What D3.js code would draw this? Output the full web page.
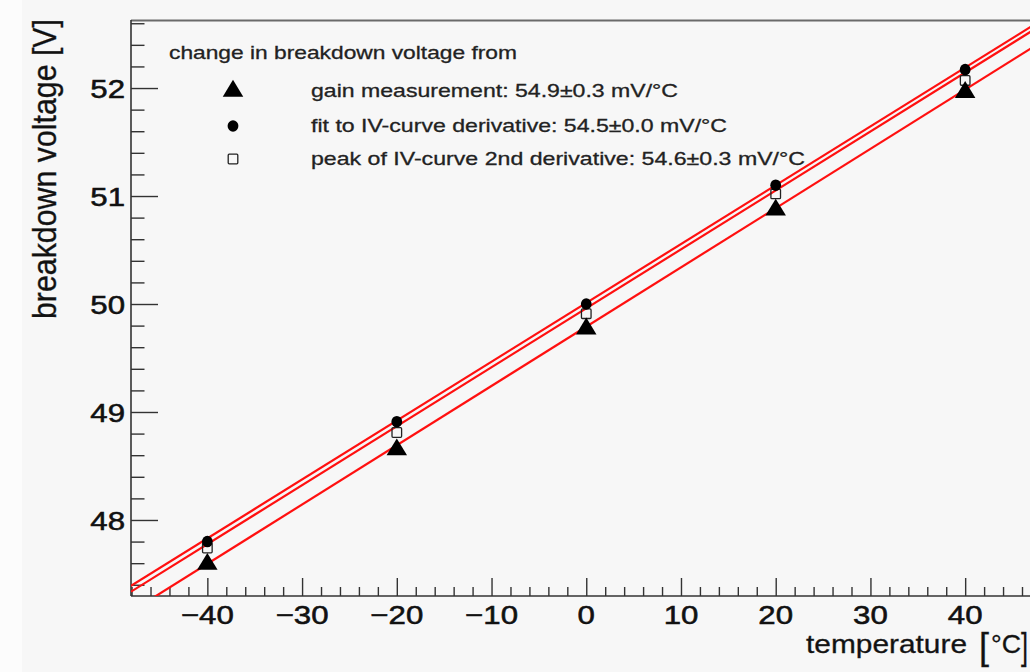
<!DOCTYPE html>
<html>
<head>
<meta charset="utf-8">
<script src="https://cdn.jsdelivr.net/npm/d3@7"></script>
<style>
  html, body { margin: 0; padding: 0; background: #f7f7f7; }
  svg { display: block; }
  text { font-family: "Liberation Sans", Arial, Helvetica, sans-serif; fill: #111; }
  .bold-ish { stroke: #111; stroke-width: 0.55px; }
  .soft { stroke: #222; stroke-width: 0.3px; }
</style>
</head>
<body>
<script>
// Temperatures at which the breakdown voltage was determined (°C)
const temperatures = [-40, -20, 0, 20, 40];

// Breakdown voltage (V) per method
const vGainMeasurement = [47.60, 48.66, 49.78, 50.88, 51.97];
const vFitIVDerivative = [47.80, 48.91, 50.00, 51.10, 52.17];
const vPeakIV2ndDeriv  = [47.74, 48.81, 49.91, 51.02, 52.07];

// Linear fit results: slope (mV/°C) and voltage at 0 °C (V)
const fitSlopes  = [54.9, 54.5, 54.6];
const fitOffsets = [49.79, 50.01, 49.96];

// Legend texts
const legendTitle = "change in breakdown voltage from";
const legendLabels = [
  "gain measurement: 54.9\u00b10.3 mV/\u00b0C",
  "fit to IV-curve derivative: 54.5\u00b10.0 mV/\u00b0C",
  "peak of IV-curve 2nd derivative: 54.6\u00b10.3 mV/\u00b0C"
];

// Axis ticks
const xMajorTicks = [-40, -30, -20, -10, 0, 10, 20, 30, 40];
const yMajorTicks = [48, 49, 50, 51, 52];

const W = 1030, H = 672;
const frame = { left: 131, right: 1040, top: 20, bottom: 596 };

const svg = d3.select("body").append("svg")
  .attr("width", W).attr("height", H);

svg.append("rect").attr("width", W).attr("height", H).attr("fill", "#f7f7f7");
svg.append("rect").attr("width", 22).attr("height", H).attr("fill", "#fcfcfc");

const x = d3.scaleLinear().domain([-48.06, 47.9]).range([frame.left, frame.right]);
const y = d3.scaleLinear().domain([47.296, 52.63]).range([frame.bottom, frame.top]);

// clip region for the fit lines
svg.append("clipPath").attr("id", "plotArea")
  .append("rect")
  .attr("x", frame.left).attr("y", frame.top)
  .attr("width", frame.right - frame.left).attr("height", frame.bottom - frame.top);

// frame top border
svg.append("line")
  .attr("x1", frame.left).attr("x2", W + 20)
  .attr("y1", frame.top + 0.5).attr("y2", frame.top + 0.5)
  .attr("stroke", "#6a6a6a").attr("stroke-width", 2);

const axisColor = "#333";

// x axis: minor ticks every 2 °C, major every 10 °C, drawn inward
const xAxisMinor = d3.axisTop(x)
  .tickValues(d3.range(-48, 48, 2).filter(v => v % 10 !== 0))
  .tickSize(9).tickFormat("");
const xAxisMajor = d3.axisTop(x)
  .tickValues(xMajorTicks).tickSize(18).tickFormat("");

svg.append("g").attr("transform", `translate(0,${frame.bottom})`).call(xAxisMinor);
svg.append("g").attr("transform", `translate(0,${frame.bottom})`).call(xAxisMajor);

// y axis: minor every 0.2 V, major every 1 V, drawn inward
const yMinorVals = d3.range(47.4, 52.61, 0.2).map(v => +v.toFixed(1)).filter(v => Math.abs(v - Math.round(v)) > 1e-6);
const yAxisMinor = d3.axisRight(y).tickValues(yMinorVals).tickSize(13.5).tickFormat("");
const yAxisMajor = d3.axisRight(y).tickValues(yMajorTicks).tickSize(27).tickFormat("");

svg.append("g").attr("transform", `translate(${frame.left},0)`).call(yAxisMinor);
svg.append("g").attr("transform", `translate(${frame.left},0)`).call(yAxisMajor);

svg.selectAll(".domain").remove();
svg.selectAll(".tick line").attr("stroke", axisColor).attr("stroke-width", 1.4);

// axis lines
svg.append("line")
  .attr("x1", frame.left).attr("x2", frame.left)
  .attr("y1", frame.top).attr("y2", frame.bottom)
  .attr("stroke", axisColor).attr("stroke-width", 1.6);
svg.append("line")
  .attr("x1", frame.left).attr("x2", W + 20)
  .attr("y1", frame.bottom).attr("y2", frame.bottom)
  .attr("stroke", axisColor).attr("stroke-width", 1.6);

// tick labels (glyphs slightly widened)
const hScale = 1.2;
const fmtTick = v => (v < 0 ? "\u2212" + Math.abs(v) : String(v));

svg.append("g").selectAll("text")
  .data(xMajorTicks).join("text")
  .attr("class", "bold-ish")
  .attr("transform", d => `translate(${x(d)},624) scale(${hScale},1)`)
  .attr("text-anchor", "middle")
  .style("font-size", "26px")
  .text(fmtTick);

svg.append("g").selectAll("text")
  .data(yMajorTicks).join("text")
  .attr("class", "bold-ish")
  .attr("transform", d => `translate(125,${y(d) + 10}) scale(${hScale},1)`)
  .attr("text-anchor", "end")
  .style("font-size", "26px")
  .text(d => String(d));

// axis titles
svg.append("text")
  .attr("class", "soft")
  .attr("transform", `translate(55.5,19) rotate(-90) scale(1,${hScale})`)
  .attr("text-anchor", "end")
  .attr("textLength", 300).attr("lengthAdjust", "spacingAndGlyphs")
  .style("font-size", "27px")
  .text("breakdown voltage [V]");

const xTitle = svg.append("g").attr("class", "soft");
xTitle.append("text").attr("x", 806).attr("y", 653)
  .attr("textLength", 161).attr("lengthAdjust", "spacingAndGlyphs")
  .style("font-size", "25px").text("temperature");
xTitle.append("text").attr("x", 979).attr("y", 659)
  .attr("textLength", 10).attr("lengthAdjust", "spacingAndGlyphs")
  .style("font-size", "36px").style("font-weight", "300").text("[");
xTitle.append("text").attr("x", 991).attr("y", 653)
  .attr("textLength", 30).attr("lengthAdjust", "spacingAndGlyphs")
  .style("font-size", "25px").text("\u00b0C");
xTitle.append("text").attr("x", 1021).attr("y", 659)
  .attr("textLength", 7).attr("lengthAdjust", "spacingAndGlyphs")
  .style("font-size", "36px").text("]");

// fit lines
const fits = fitSlopes.map((s, i) => ({ slope: s / 1000, offset: fitOffsets[i] }));
const line = d3.line().x(d => x(d[0])).y(d => y(d[1]));
const [t0, t1] = x.domain();
svg.append("g").attr("clip-path", "url(#plotArea)")
  .selectAll("path").data(fits).join("path")
  .attr("d", f => line([[t0, f.offset + f.slope * t0], [t1, f.offset + f.slope * t1]]))
  .attr("fill", "none").attr("stroke", "#ff1010").attr("stroke-width", 2.2);

// markers
const triangle = d3.symbol().type(d3.symbolTriangle).size(150);
const series = [
  { values: vPeakIV2ndDeriv, kind: "square" },
  { values: vGainMeasurement, kind: "triangle" },
  { values: vFitIVDerivative, kind: "circle" }
];

function drawMarker(g, kind, cx, cy) {
  if (kind === "triangle") {
    g.append("path").attr("d", triangle())
      .attr("transform", `translate(${cx},${cy + 1}) scale(1.1,1.05)`)
      .attr("fill", "#000");
  } else if (kind === "circle") {
    g.append("ellipse").attr("cx", cx).attr("cy", cy).attr("rx", 5.4).attr("ry", 5.8)
      .attr("fill", "#000");
  } else {
    g.append("rect").attr("x", cx - 4.8).attr("y", cy - 4.8)
      .attr("width", 9.6).attr("height", 9.6).attr("rx", 1)
      .attr("fill", "none").attr("stroke", "#222").attr("stroke-width", 1.3);
  }
}

const markers = svg.append("g");
series.forEach(s => {
  s.values.forEach((v, i) => drawMarker(markers, s.kind, x(temperatures[i]), y(v)));
});

// legend
const legend = svg.append("g");
legend.append("text").attr("x", 169).attr("y", 59)
  .attr("class", "soft")
  .attr("textLength", 348).attr("lengthAdjust", "spacingAndGlyphs")
  .style("font-size", "19px").style("fill", "#222").text(legendTitle);

const legendRows = [
  { kind: "triangle", label: legendLabels[0], my: 90, ty: 97, len: 367 },
  { kind: "circle",   label: legendLabels[1], my: 126, ty: 132, len: 416 },
  { kind: "square",   label: legendLabels[2], my: 159, ty: 165, len: 494 }
];
legendRows.forEach(r => {
  drawMarker(legend, r.kind, 233, r.my);
  legend.append("text").attr("x", 311).attr("y", r.ty)
    .attr("class", "soft")
    .attr("textLength", r.len).attr("lengthAdjust", "spacingAndGlyphs")
    .style("font-size", "19px").style("fill", "#222").text(r.label);
});
</script>
</body>
</html>
